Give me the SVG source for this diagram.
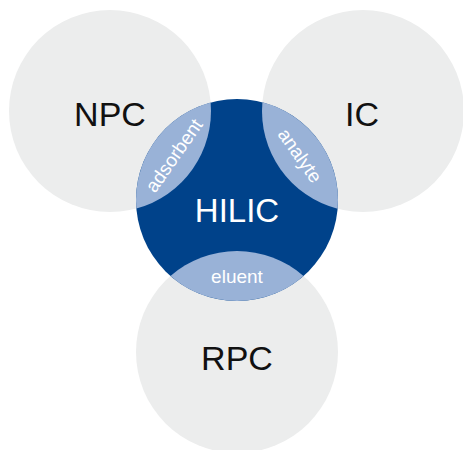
<svg xmlns="http://www.w3.org/2000/svg" width="463" height="450" viewBox="0 0 463 450">
<style>
.outer{fill:#ECEDED}
.core{fill:#00428A}
.lens{fill:#99B2D7}
.big{font-family:"Liberation Sans",Arial,sans-serif;font-size:34px;text-anchor:middle;fill:#111}
.hilic{font-family:"Liberation Sans",Arial,sans-serif;font-size:33px;text-anchor:middle;fill:#fff}
.small{font-family:"Liberation Sans",Arial,sans-serif;font-size:19px;text-anchor:middle;fill:#fff;dominant-baseline:central}
</style>
<rect width="463" height="450" fill="#fff"/>
<g id="npc">
<circle class="outer" cx="110" cy="111" r="101"/>
<text class="big" x="110" y="126">NPC</text>
</g>
<g id="ic">
<circle class="outer" cx="363" cy="111" r="101"/>
<text class="big" x="362" y="126">IC</text>
</g>
<g id="rpc">
<circle class="outer" cx="237" cy="352" r="101"/>
<text class="big" x="237" y="370">RPC</text>
</g>
<g id="hilic">
<circle class="core" cx="237" cy="200" r="101"/>
<text class="hilic" x="237" y="222">HILIC</text>
</g>
<g id="connectors">
<g id="adsorbent">
<path class="lens" d="M210.64 102.5 A101 101 0 0 1 136.36 208.5 A101 101 0 0 1 210.64 102.5 Z"/>
<text class="small" transform="translate(174 155.5) rotate(-55)">adsorbent</text>
</g>
<g id="analyte">
<path class="lens" d="M262.4 102.2 A101 101 0 0 0 337.6 208.8 A101 101 0 0 0 262.4 102.2 Z"/>
<text class="small" transform="translate(300 155.5) rotate(55)">analyte</text>
</g>
<g id="eluent">
<path class="lens" d="M170.48 276 A101 101 0 0 0 303.52 276 A101 101 0 0 0 170.48 276 Z"/>
<text class="small" x="237" y="276">eluent</text>
</g>
</g>
</svg>
